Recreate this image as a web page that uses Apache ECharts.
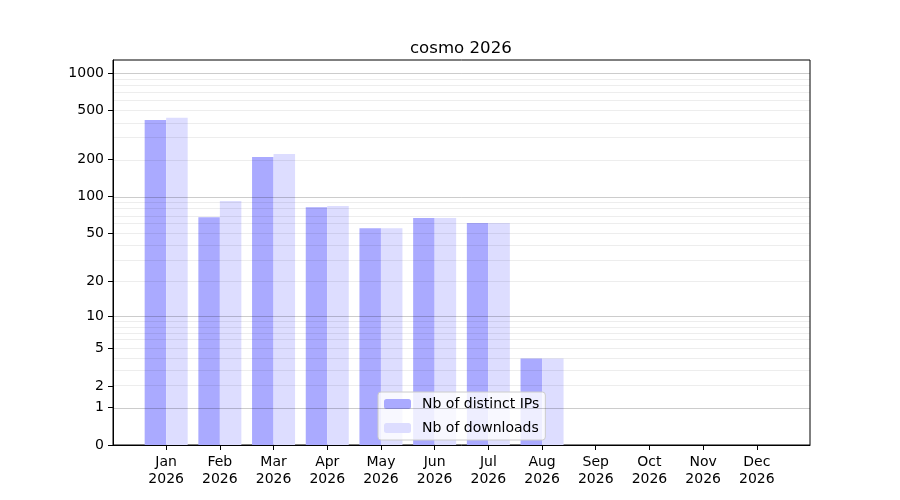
<!DOCTYPE html>
<html>
<head>
<meta charset="utf-8">
<script src="https://cdn.jsdelivr.net/npm/echarts@6/dist/echarts.min.js"></script>
<style>
  html, body { margin: 0; padding: 0; background: #fff; }
  #chart { width: 900px; height: 500px; }
</style>
</head>
<body>
<div id="chart"></div>
<script>
var months = ['Jan', 'Feb', 'Mar', 'Apr', 'May', 'Jun', 'Jul', 'Aug', 'Sep', 'Oct', 'Nov', 'Dec'];
var yearLabel = '2026';
var distinctIps = [419, 68, 210, 82, 55, 67, 61, 4, 0, 0, 0, 0];
var downloads = [437, 92, 222, 84, 55, 67, 61, 4, 0, 0, 0, 0];
var yTicks = [0, 1, 2, 5, 10, 20, 50, 100, 200, 500, 1000];
var majorGrid = [1, 10, 100, 1000];
var minorGrid = [2, 3, 4, 5, 6, 7, 8, 9, 20, 30, 40, 50, 60, 70, 80, 90,
                 200, 300, 400, 500, 600, 700, 800, 900];

// symlog-like scale: y = log10(1 + v)
function f(v) { return Math.log10(1 + v); }

var font = 'DejaVu Sans';

var gridLines = [];
majorGrid.forEach(function (v) {
    gridLines.push({ yAxis: f(v), lineStyle: { color: 'rgba(0,0,0,0.2)', width: 1, type: 'solid' } });
});
minorGrid.forEach(function (v) {
    gridLines.push({ yAxis: f(v), lineStyle: { color: 'rgba(0,0,0,0.07)', width: 1, type: 'solid' } });
});

var chart = echarts.init(document.getElementById('chart'));
var option = {
    animation: false,
    backgroundColor: '#fff',
    title: {
        text: 'cosmo 2026',
        left: 405,
        top: 35,
        textStyle: { fontFamily: font, fontSize: 16.6, fontWeight: 'normal', color: '#000' }
    },
    legend: {
        orient: 'vertical',
        left: 378,
        top: 392,
        padding: [5, 6, 5, 6],
        itemWidth: 27,
        itemHeight: 10,
        itemGap: 10,
        backgroundColor: 'rgba(255,255,255,0.8)',
        borderColor: '#cccccc',
        borderWidth: 1,
        borderRadius: 3,
        textStyle: { fontFamily: font, fontSize: 14, color: '#000', padding: [0, 0, 0, 6] },
        data: ['Nb of distinct IPs', 'Nb of downloads']
    },
    grid: {
        left: 113,
        right: 90,
        top: 60,
        bottom: 55,
        show: true,
        borderColor: '#000',
        borderWidth: 1,
        backgroundColor: 'transparent'
    },
    xAxis: {
        type: 'value',
        min: -0.99,
        max: 11.99,
        axisLine: { show: true, onZero: false, lineStyle: { color: '#000' } },
        axisTick: { show: true, length: 5, lineStyle: { color: '#000' }, customValues: months.map(function (m, i) { return i; }) },
        axisLabel: {
            show: true,
            customValues: months.map(function (m, i) { return i; }),
            margin: 9,
            fontFamily: font,
            fontSize: 14,
            color: '#000',
            lineHeight: 17,
            formatter: function (v) {
                var i = Math.round(v);
                return months[i] ? months[i] + '\n' + yearLabel : '';
            }
        },
        splitLine: { show: false }
    },
    yAxis: {
        type: 'value',
        min: 0,
        max: f(1278),
        axisLine: { show: true, onZero: false, lineStyle: { color: '#000' } },
        axisTick: { show: true, length: 5, lineStyle: { color: '#000' }, customValues: yTicks.map(f) },
        axisLabel: {
            customValues: yTicks.map(f),
            margin: 9,
            fontFamily: font,
            fontSize: 14,
            color: '#000',
            formatter: function (v) {
                return String(Math.round(Math.pow(10, v) - 1));
            }
        },
        splitLine: { show: false }
    },
    series: [
        {
            name: 'Nb of distinct IPs',
            type: 'bar',
            barWidth: 21.5,
            barGap: '0%',
            itemStyle: { color: '#aaaaff' },
            data: distinctIps.map(function (v, i) { return [i, f(v)]; })
        },
        {
            name: 'Nb of downloads',
            type: 'bar',
            barWidth: 21.5,
            barGap: '0%',
            itemStyle: { color: '#ddddff' },
            data: downloads.map(function (v, i) { return [i, f(v)]; }),
            markLine: {
                silent: true,
                symbol: 'none',
                label: { show: false },
                data: gridLines
            }
        }
    ]
};
chart.setOption(option);
</script>
</body>
</html>
